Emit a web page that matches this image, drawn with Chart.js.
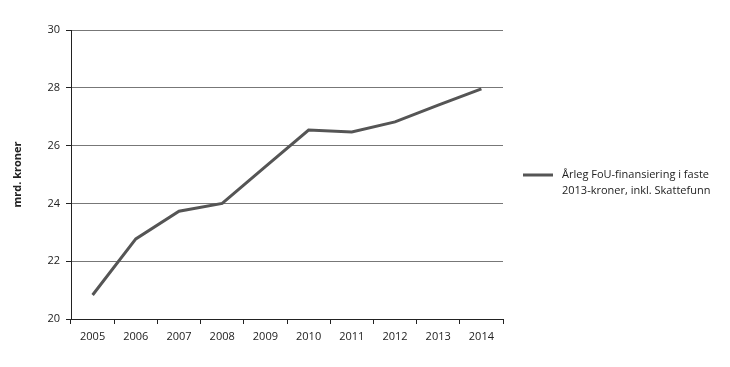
<!DOCTYPE html>
<html>
<head>
<meta charset="utf-8">
<script src="https://cdn.jsdelivr.net/npm/chart.js@4.4.0/dist/chart.umd.min.js"></script>
<style>
  html, body { margin: 0; padding: 0; background: #fff; }
  #wrap { width: 730px; height: 367px; }
</style>
</head>
<body>
<div id="wrap"><canvas id="chart" width="730" height="367"></canvas></div>
<script>
// Data
const years = ['2005', '2006', '2007', '2008', '2009', '2010', '2011', '2012', '2013', '2014'];
const funding = [20.83, 22.77, 23.73, 24.0, 25.27, 26.54, 26.47, 26.82, 27.4, 27.96];
const seriesLabel = ['Årleg FoU-finansiering i faste', '2013-kroner, inkl. Skattefunn'];
const yTitle = 'mrd. kroner';

const FONT = '"Open Sans", "Noto Sans", sans-serif';

// Legend on the right, two-line text
const sideLegend = {
  id: 'sideLegend',
  afterDraw(chart) {
    const ctx = chart.ctx;
    const ds = chart.data.datasets[0];
    const x0 = 523, y0 = 175;
    ctx.save();
    ctx.strokeStyle = ds.borderColor;
    ctx.lineWidth = 3;
    ctx.beginPath();
    ctx.moveTo(x0, y0);
    ctx.lineTo(x0 + 30, y0);
    ctx.stroke();
    ctx.fillStyle = '#222';
    ctx.font = '11px ' + FONT;
    ctx.textBaseline = 'middle';
    ctx.textAlign = 'left';
    seriesLabel.forEach((line, i) => ctx.fillText(line, x0 + 39, y0 + i * 16));
    ctx.restore();
  }
};

new Chart(document.getElementById('chart'), {
  type: 'line',
  data: {
    labels: years,
    datasets: [{
      label: seriesLabel.join(' '),
      data: funding,
      borderColor: '#555555',
      borderWidth: 3,
      pointRadius: 0,
      tension: 0,
      fill: false
    }]
  },
  options: {
    responsive: false,
    animation: false,
    layout: { padding: { left: 11, top: 30, right: 227, bottom: 0 } },
    plugins: {
      legend: { display: false },
      tooltip: { enabled: false }
    },
    scales: {
      x: {
        offset: true,
        grid: { offset: true, drawOnChartArea: false, color: '#222', tickLength: 5 },
        border: { color: '#222', width: 1 },
        ticks: { color: '#222', font: { family: FONT, size: 11 }, padding: 6, maxRotation: 0 },
        afterFit: s => { s.height = 48; }
      },
      y: {
        min: 20,
        max: 30,
        ticks: { stepSize: 2, color: '#222', font: { family: FONT, size: 11 }, padding: 6 },
        grid: { color: '#777', tickLength: 5, tickColor: '#222' },
        border: { color: '#222', width: 1 },
        title: { display: true, text: yTitle, color: '#222', font: { family: FONT, size: 11, weight: 'bold' }, padding: 0 },
        afterFit: s => { s.width = 60; }
      }
    }
  },
  plugins: [sideLegend]
});
</script>
</body>
</html>
